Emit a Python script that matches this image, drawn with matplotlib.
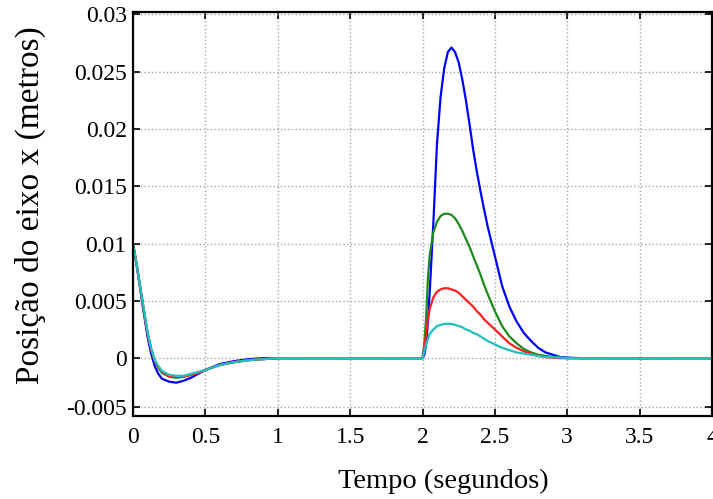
import matplotlib
matplotlib.use('Agg')
import matplotlib.pyplot as plt
import numpy as np

plt.rcParams['font.family'] = ['Liberation Serif', 'DejaVu Serif']

# tempo (s): trecho inicial e trecho do pulso em t = 2 s
t_inicio = [0, 0.025, 0.05, 0.075, 0.1, 0.125, 0.15, 0.175, 0.2, 0.25,
            0.3, 0.35, 0.4, 0.45, 0.5, 0.6, 0.7, 0.8, 0.9, 1.0]
t_pulso = [2.0, 2.0125, 2.025, 2.0375, 2.05, 2.075, 2.1, 2.125, 2.15, 2.175,
           2.2, 2.225, 2.25, 2.275, 2.3, 2.325, 2.35, 2.375, 2.4, 2.425,
           2.45, 2.5, 2.55, 2.6, 2.65, 2.7, 2.75, 2.8, 2.85, 2.9,
           2.95, 3.0, 3.1, 4.0]

# posicao (m)
azul_ini = [0.01, 0.0081, 0.006, 0.0039, 0.0019, 0.0004, -0.0008, -0.0016, -0.0021, -0.0024,
            -0.0025, -0.0023, -0.0020, -0.0016, -0.0012, -0.0006, -0.0003, -0.0001, 0.0, 0.0]
azul_pul = [0, 0.0003, 0.0012, 0.0032, 0.0058, 0.0118, 0.0187, 0.0228, 0.0253, 0.0267,
            0.0271, 0.0267, 0.0258, 0.0243, 0.0225, 0.0204, 0.0182, 0.0163, 0.0146, 0.0130,
            0.0115, 0.0089, 0.0063, 0.0045, 0.0032, 0.0022, 0.0015, 0.0009, 0.0005, 0.0003,
            0.0001, 0.00005, 0, 0]

verde_ini = [0.01, 0.0082, 0.0062, 0.0042, 0.0022, 0.0008, -0.0003, -0.0010, -0.0015, -0.0019,
             -0.0020, -0.0019, -0.0017, -0.0015, -0.0012, -0.0007, -0.0004, -0.0002, -0.0001, 0.0]
verde_pul = [0, 0.0012, 0.0035, 0.0070, 0.0090, 0.0110, 0.0119, 0.0124, 0.0126, 0.0126,
             0.0125, 0.0122, 0.0117, 0.0111, 0.0104, 0.0097, 0.0089, 0.0081, 0.0073, 0.0064,
             0.0056, 0.0041, 0.0028, 0.0019, 0.0013, 0.0008, 0.0005, 0.0003, 0.0002, 0.0001,
             0.00005, 0, 0, 0]

vermelho_ini = [0.01, 0.0082, 0.0062, 0.0042, 0.0022, 0.0008, -0.0003, -0.0009, -0.0014, -0.0018,
                -0.0019, -0.0019, -0.0017, -0.0015, -0.0012, -0.0007, -0.0004, -0.0002, -0.0001, 0.0]
vermelho_pul = [0, 0.0010, 0.0022, 0.0034, 0.0043, 0.0053, 0.0058, 0.0060, 0.0061, 0.0061,
                0.0060, 0.0059, 0.0057, 0.0054, 0.0051, 0.0048, 0.0045, 0.0041, 0.0038, 0.0034,
                0.0031, 0.0025, 0.0019, 0.0013, 0.0009, 0.0006, 0.0004, 0.0002, 0.0001, 0.00005,
                0, 0, 0, 0]

ciano_ini = [0.01, 0.0082, 0.0062, 0.0043, 0.0023, 0.0009, -0.0002, -0.0008, -0.0013, -0.0017,
             -0.0018, -0.0018, -0.0016, -0.0014, -0.0012, -0.0007, -0.0004, -0.0002, -0.0001, 0.0]
ciano_pul = [0, 0.0006, 0.0012, 0.0017, 0.0021, 0.0025, 0.0028, 0.0029, 0.0030, 0.0030,
             0.0030, 0.0029, 0.0028, 0.0027, 0.0025, 0.0024, 0.0022, 0.0021, 0.0019, 0.0017,
             0.0015, 0.0012, 0.0009, 0.0007, 0.0005, 0.0004, 0.0003, 0.0002, 0.0001, 0.0001,
             0.00005, 0, 0, 0]

xticks = [0, 0.5, 1, 1.5, 2, 2.5, 3, 3.5, 4]
xlabels = ['0', '0.5', '1', '1.5', '2', '2.5', '3', '3.5', '4']
yticks = [-0.005, 0, 0.005, 0.01, 0.015, 0.02, 0.025, 0.03]
ylabels = ['-0.005', '0', '0.005', '0.01', '0.015', '0.02', '0.025', '0.03']

# a figura original tem a parte negativa do eixo y comprimida
k = 49 / 57.3


def fwd(y):
    y = np.asarray(y, dtype=float)
    return np.where(y < 0, y * k, y)


def inv(y):
    y = np.asarray(y, dtype=float)
    return np.where(y < 0, y / k, y)


t = t_inicio + t_pulso

fig = plt.figure(figsize=(7.13, 4.99), dpi=100)
ax = fig.add_axes([133/713, 1 - 416/499, 579/713, 404/499])

ax.plot(t, azul_ini + azul_pul, color='#0000ff', lw=1.6)
ax.plot(t, verde_ini + verde_pul, color='#1a8a1a', lw=1.6)
ax.plot(t, vermelho_ini + vermelho_pul, color='#ff2020', lw=1.6)
ax.plot(t, ciano_ini + ciano_pul, color='#20c0c0', lw=1.6)

ax.set_yscale('function', functions=(fwd, inv))
ax.set_xlim(0, 4)
ax.set_ylim(-0.0059, 0.0302)
ax.set_xticks(xticks)
ax.set_xticklabels(xlabels)
ax.set_yticks(yticks)
ax.set_yticklabels(ylabels)
ax.minorticks_off()
ax.tick_params(direction='in', length=5, width=1.2, top=True, right=True,
               labelsize=17)
ax.tick_params(axis='x', pad=8)
ax.tick_params(axis='y', pad=4.5)
ax.grid(True, linestyle=':', color='#a8a8a8', lw=1)
for s in ax.spines.values():
    s.set_linewidth(1.6)

ax.set_xlabel('Tempo (segundos)', fontsize=20.5)
ax.xaxis.set_label_coords(0.536, -0.13)
ax.set_ylabel('Posição do eixo x (metros)', fontsize=24)
ax.yaxis.set_label_coords(-0.15, 0.522)

fig.savefig('out.png', dpi=100)
